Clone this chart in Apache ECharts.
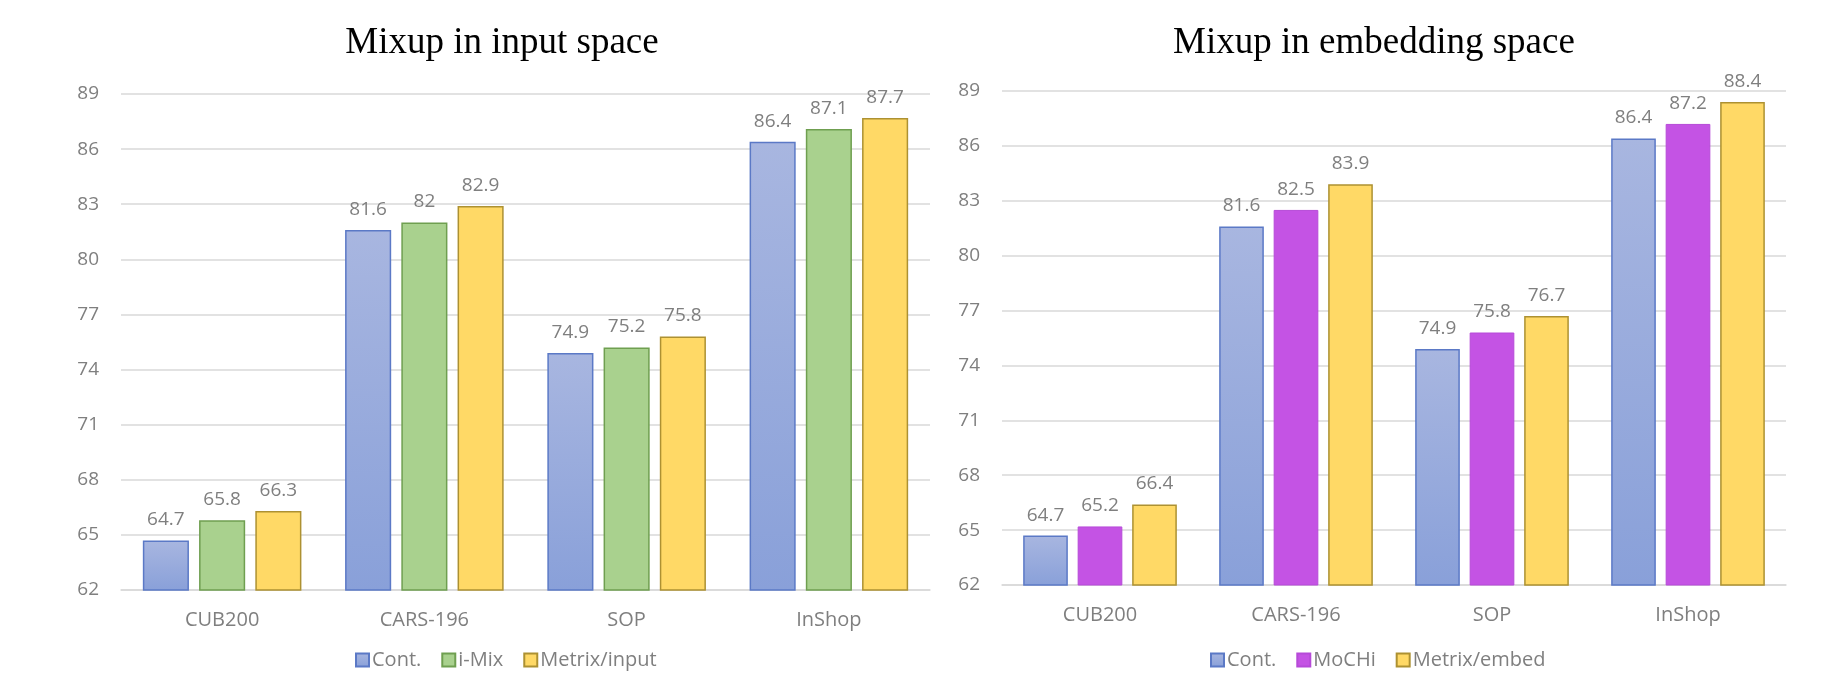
<!DOCTYPE html>
<html>
<head>
<meta charset="utf-8">
<title>Mixup comparison</title>
<script src="https://cdn.jsdelivr.net/npm/echarts@6/dist/echarts.min.js"></script>
<style>
  html, body { margin: 0; padding: 0; background: #ffffff; }
  #chart { width: 1824px; height: 673px; }
</style>
</head>
<body>
<div id="chart"></div>
<script>
// Datasets shown on the category axis
const categories = ['CUB200', 'CARS-196', 'SOP', 'InShop'];

// Mixup in input space
const contInput = [64.7, 81.6, 74.9, 86.4];
const iMix = [65.8, 82, 75.2, 87.1];
const metrixInput = [66.3, 82.9, 75.8, 87.7];

// Mixup in embedding space
const contEmbed = [64.7, 81.6, 74.9, 86.4];
const moChi = [65.2, 82.5, 75.8, 87.2];
const metrixEmbed = [66.4, 83.9, 76.7, 88.4];

// Value axis range and tick step (ticks: 62, 65, ..., 89)
const yMin = 62;
const yMax = 89;
const yStep = 3;

const labelFont = 'Open Sans';
const grey = '#7f7f7f';
const gridGrey = '#d9d9d9';

const styles = {
  cont: {
    color: new echarts.graphic.LinearGradient(0, 0, 0, 1, [
      { offset: 0, color: '#a8b6e0' },
      { offset: 1, color: '#89a0d9' }
    ]),
    borderColor: '#5b79c6', borderWidth: 1.5
  },
  imix: { color: '#a9d18e', borderColor: '#6f9f50', borderWidth: 1.5 },
  metrix: { color: '#ffd966', borderColor: '#ad9132', borderWidth: 1.5 },
  mochi: { color: '#c453e4', borderColor: '#b64ad8', borderWidth: 1 }
};

function xAxis(gridIndex) {
  return {
    type: 'category', gridIndex, data: categories,
    axisLine: { show: true, lineStyle: { color: gridGrey, width: 1.5 } },
    axisTick: { show: false },
    axisLabel: { color: grey, fontFamily: labelFont, fontSize: 20, margin: 20 }
  };
}

function yAxis(gridIndex) {
  return {
    type: 'value', gridIndex, min: yMin, max: yMax, interval: yStep,
    axisLine: { show: false }, axisTick: { show: false },
    splitLine: { lineStyle: { color: gridGrey, width: 1.5 } },
    axisLabel: { color: grey, fontFamily: labelFont, fontSize: 19, margin: 22 }
  };
}

function barSeries(name, data, style, idx) {
  return {
    type: 'bar', name, data,
    xAxisIndex: idx, yAxisIndex: idx,
    barCategoryGap: '21.6%', barGap: '22%',
    itemStyle: style,
    label: {
      show: true, position: 'top', distance: 11,
      color: grey, fontFamily: labelFont, fontSize: 19, lineHeight: 19
    },
    emphasis: { disabled: true }
  };
}

const legendBase = {
  top: 650, padding: 0, itemWidth: 13, itemHeight: 13, itemGap: 20,
  icon: 'rect',
  textStyle: { color: grey, fontFamily: labelFont, fontSize: 20, padding: [0, 0, 0, -2] }
};

const titleStyle = { color: '#000000', fontFamily: 'Liberation Serif', fontSize: 37, fontWeight: 'normal' };

const chart = echarts.init(document.getElementById('chart'), null, { renderer: 'canvas' });
chart.setOption({
  backgroundColor: '#ffffff',
  animation: false,
  title: [
    { text: 'Mixup in input space', left: 502, top: 25, padding: 0, textAlign: 'center', textStyle: titleStyle },
    { text: 'Mixup in embedding space', left: 1374, top: 25, padding: 0, textAlign: 'center', textStyle: titleStyle }
  ],
  legend: [
    Object.assign({}, legendBase, { left: 355, data: ['Cont.', 'i-Mix', 'Metrix/input'] }),
    Object.assign({}, legendBase, { left: 1210, data: ['Cont.', 'MoCHi', 'Metrix/embed'] })
  ],
  grid: [
    { left: 121, right: 894, top: 94, bottom: 83, containLabel: false },
    { left: 1002, right: 38, top: 91, bottom: 88, containLabel: false }
  ],
  xAxis: [xAxis(0), xAxis(1)],
  yAxis: [yAxis(0), yAxis(1)],
  series: [
    barSeries('Cont.', contInput, styles.cont, 0),
    barSeries('i-Mix', iMix, styles.imix, 0),
    barSeries('Metrix/input', metrixInput, styles.metrix, 0),
    barSeries('Cont.', contEmbed, styles.cont, 1),
    barSeries('MoCHi', moChi, styles.mochi, 1),
    barSeries('Metrix/embed', metrixEmbed, styles.metrix, 1)
  ]
});
</script>
</body>
</html>
